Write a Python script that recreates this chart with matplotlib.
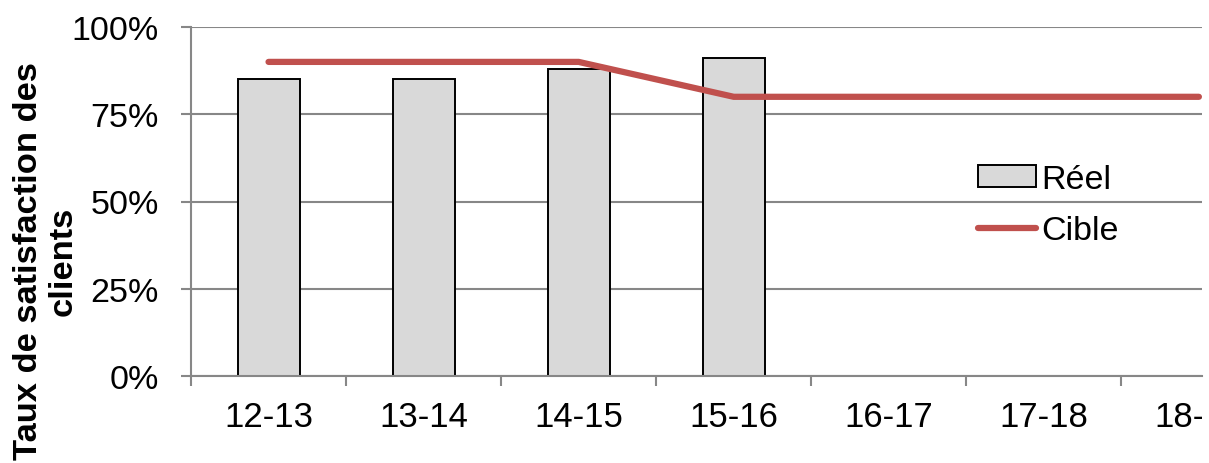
import numpy as np
import matplotlib.pyplot as plt
from matplotlib.patches import Rectangle

plt.rcParams['font.family'] = ['Liberation Sans', 'DejaVu Sans']

annees = ['12-13', '13-14', '14-15', '15-16', '16-17', '17-18', '18-19']
reel = [85, 85, 88, 91]          # satisfaction mesurée (%)
cible = [90, 90, 90, 80, 80, 80, 80]  # objectif (%)

gris = '#878787'
rouge = '#C0504D'

fig = plt.figure(figsize=(12.09, 4.64), dpi=100)
ax = fig.add_axes([191 / 1209, 87 / 464, 1011 / 1209, 349 / 464])

x = np.arange(len(annees))
barres = ax.bar(x[:len(reel)], reel, width=0.4, color='#D9D9D9',
                edgecolor='black', linewidth=1.4, label='Réel', zorder=2)
ligne, = ax.plot(x, cible, color=rouge, linewidth=4.5, solid_capstyle='round',
                 solid_joinstyle='miter', label='Cible', zorder=3)

ax.set_ylim(0, 100)
ax.set_xlim(-0.5, 6.02)
ax.set_yticks([0, 25, 50, 75, 100])
ax.set_yticklabels([f'{v}%' for v in [0, 25, 50, 75, 100]])
ax.set_xticks(x)
ax.set_xticklabels(annees)
ax.set_xticks(np.arange(-0.5, 6.5, 1.0), minor=True)

ax.yaxis.grid(True, color=gris, linewidth=1.5, zorder=0)
ax.set_axisbelow(True)
for s in ['top', 'right']:
    ax.spines[s].set_visible(False)
for s in ['left', 'bottom']:
    ax.spines[s].set_color(gris)
    ax.spines[s].set_linewidth(1.5)

ax.tick_params(axis='y', length=7, width=1.5, color=gris, labelsize=24.5, pad=16)
ax.tick_params(axis='x', which='major', length=0, labelsize=25, pad=17)
ax.tick_params(axis='x', which='minor', length=7, width=1.5, color=gris)

# la dernière étiquette est coupée au bord droit de la zone
zone = Rectangle((0, 0), 1202 / 1209, 1, transform=fig.transFigure)
for t in ax.xaxis.get_major_ticks():
    t.label1.set_clip_path(zone)

fig.text(46 / 1209, 1 - 261 / 464, 'Taux de satisfaction des\nclients',
         rotation=90, ha='center', va='center', fontsize=24.8,
         fontweight='bold', linespacing=1.15)

ax.legend([barres, ligne], ['Réel', 'Cible'], loc='center left',
          bbox_to_anchor=(978 / 1209, 1 - 206 / 464),
          bbox_transform=fig.transFigure, frameon=False, fontsize=24.5,
          borderpad=0, borderaxespad=0, handlelength=1.7, handleheight=0.6,
          handletextpad=0.15, labelspacing=0.6)

fig.savefig('out.png', dpi=100)
